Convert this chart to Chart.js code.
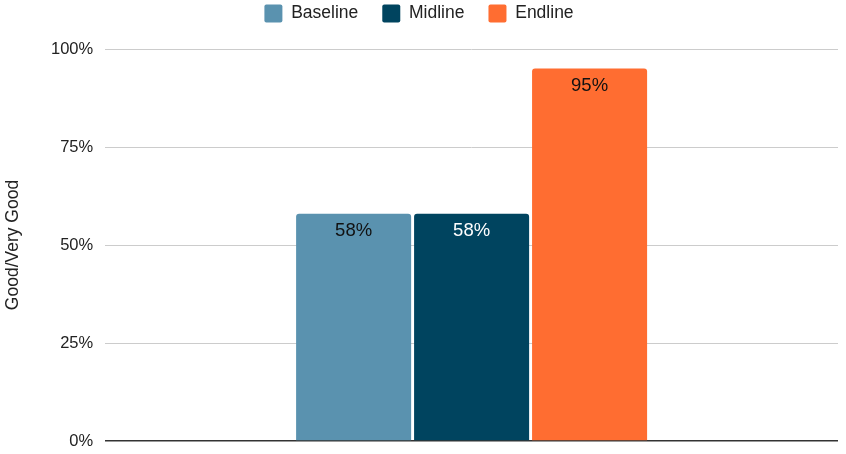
<!DOCTYPE html>
<html>
<head>
<meta charset="utf-8">
<script src="https://cdn.jsdelivr.net/npm/chart.js@4.4.1/dist/chart.umd.min.js"></script>
<style>
html,body{margin:0;padding:0;background:#fff;}
#wrap{width:846px;height:454px;position:relative;}
</style>
</head>
<body>
<div id="wrap"><canvas id="c" width="846" height="454"></canvas></div>
<script>
const categories = [""];
const seriesNames = ["Baseline", "Midline", "Endline"];
const baselineValues = [58];
const midlineValues = [58];
const endlineValues = [95];
const seriesColors = ["#5A92AF", "#00445F", "#FF6D31"];
const labelColors = ["#111111", "#ffffff", "#111111"];
const yTicks = [0, 25, 50, 75, 100];

const font = "'Liberation Sans', Arial, Helvetica, sans-serif";

const valueLabels = {
  id: 'valueLabels',
  afterDatasetsDraw(chart) {
    const ctx = chart.ctx;
    ctx.save();
    ctx.font = "18.5px " + font;
    ctx.textAlign = 'center';
    ctx.textBaseline = 'middle';
    chart.data.datasets.forEach((ds, i) => {
      const meta = chart.getDatasetMeta(i);
      meta.data.forEach((bar, j) => {
        ctx.fillStyle = labelColors[i];
        ctx.fillText(ds.data[j] + '%', bar.x, bar.y + 17);
      });
    });
    ctx.restore();
  }
};

const legendTweak = {
  id: 'legendTweak',
  afterInit(chart) {
    const lg = chart.legend;
    if (!lg) return;
    const origFit = lg.fit.bind(lg);
    lg.fit = function () { origFit(); this.height = 49; };
    const origDraw = lg.draw.bind(lg);
    lg.draw = function () {
      const c = this.ctx;
      c.save();
      c.translate(0, -19.5);
      origDraw();
      c.restore();
    };
  }
};

new Chart(document.getElementById('c'), {
  type: 'bar',
  data: {
    labels: categories,
    datasets: [
      { label: seriesNames[0], data: baselineValues, backgroundColor: seriesColors[0] },
      { label: seriesNames[1], data: midlineValues, backgroundColor: seriesColors[1] },
      { label: seriesNames[2], data: endlineValues, backgroundColor: seriesColors[2] }
    ].map(d => Object.assign(d, {
      categoryPercentage: 0.483,
      barPercentage: 0.975,
      borderRadius: { topLeft: 3, topRight: 3, bottomLeft: 0, bottomRight: 0 },
      borderSkipped: 'bottom'
    }))
  },
  options: {
    responsive: false,
    animation: false,
    layout: { padding: { left: 0, right: 8, top: 0, bottom: 13 } },
    plugins: {
      tooltip: { enabled: false },
      legend: {
        position: 'top',
        labels: {
          font: { family: font, size: 17.5 },
          color: '#222',
          boxWidth: 18,
          boxHeight: 18,
          padding: 24,
          useBorderRadius: true,
          borderRadius: 2
        }
      }
    },
    scales: {
      x: {
        display: false
      },
      y: {
        min: 0,
        max: 100,
        afterBuildTicks(axis) { axis.ticks = yTicks.map(v => ({ value: v })); },
        afterFit(scale) { scale.paddingBottom = 0; scale.paddingTop = 0; },
        ticks: {
          callback: v => v + '%',
          font: { family: font, size: 16.5 },
          color: '#222',
          padding: 12
        },
        grid: {
          drawTicks: false,
          color: ctx => ctx.tick && ctx.tick.value === 0 ? '#333333' : '#cccccc',
          lineWidth: ctx => ctx.tick && ctx.tick.value === 0 ? 1.5 : 1
        },
        border: { display: false },
        title: {
          display: true,
          text: 'Good/Very Good',
          font: { family: font, size: 17.5 },
          color: '#222',
          padding: { top: 3, bottom: 15 }
        }
      }
    }
  },
  plugins: [valueLabels, legendTweak]
});
</script>
</body>
</html>
